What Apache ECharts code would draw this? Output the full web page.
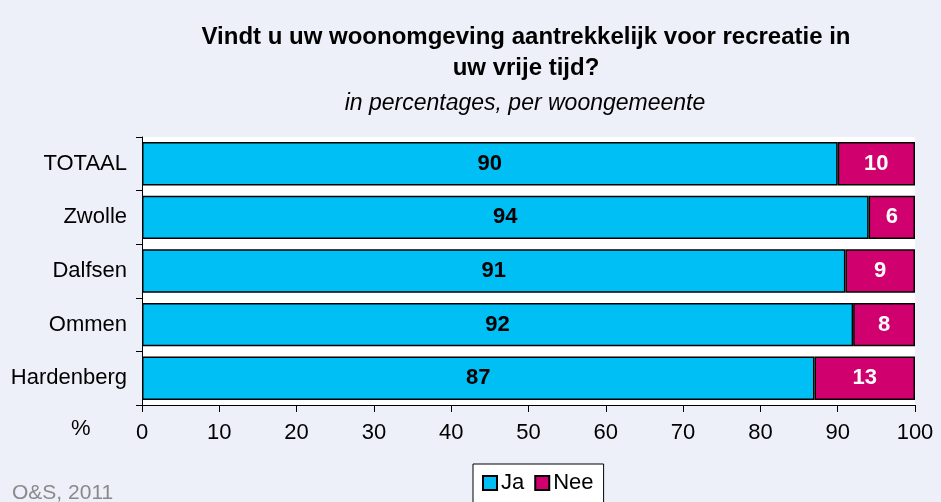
<!DOCTYPE html>
<html>
<head>
<meta charset="utf-8">
<script src="https://cdn.jsdelivr.net/npm/echarts@6/dist/echarts.min.js"></script>
<style>
  html, body { margin: 0; padding: 0; background: #EDF0F8; }
  #chart { width: 941px; height: 502px; }
</style>
</head>
<body>
<div id="chart"></div>
<script>
const categories = ['TOTAAL', 'Zwolle', 'Dalfsen', 'Ommen', 'Hardenberg'];
const jaValues = [90, 94, 91, 92, 87];
const neeValues = [10, 6, 9, 8, 13];
const seriesNames = ['Ja', 'Nee'];

const font = '"Liberation Sans", Arial, sans-serif';

const chart = echarts.init(document.getElementById('chart'));

const option = {
    backgroundColor: '#EDF0F8',
    animation: false,
    title: [
        {
            text: 'Vindt u uw woonomgeving aantrekkelijk voor recreatie in\nuw vrije tijd?',
            left: 521,
            top: 17,
            textAlign: 'center',
            textStyle: { fontFamily: font, fontSize: 24, fontWeight: 'bold', color: '#000', lineHeight: 31 },
        },
        {
            text: 'in percentages, per woongemeente',
            left: 520,
            top: 87,
            textAlign: 'center',
            textStyle: { fontFamily: font, fontSize: 23, fontStyle: 'italic', fontWeight: 'normal', color: '#000' },
        },
        {
            text: '%',
            left: 66,
            top: 413,
            textStyle: { fontFamily: font, fontSize: 22, fontWeight: 'normal', color: '#000' },
        },
        {
            text: 'O&S, 2011',
            left: 7,
            top: 478,
            textStyle: { fontFamily: font, fontSize: 21, fontWeight: 'normal', color: '#8A8A8A' },
        },
    ],
    legend: {
        data: seriesNames,
        left: 473,
        top: 464,
        itemWidth: 14,
        itemHeight: 14,
        itemGap: 10,
        padding: [8, 10, 14, 9],
        backgroundColor: '#fff',
        borderColor: '#000',
        borderWidth: 1,
        borderRadius: 0,
        icon: 'rect',
        textStyle: { fontFamily: font, fontSize: 22, color: '#000', padding: [0, 0, 0, -1] },
    },
    grid: {
        left: 142,
        right: 26,
        top: 137,
        bottom: 97,
        show: true,
        backgroundColor: '#fff',
        borderWidth: 0,
    },
    xAxis: {
        type: 'value',
        min: 0,
        max: 100,
        interval: 10,
        axisLine: { show: true, lineStyle: { color: '#000', width: 1 } },
        axisTick: { show: true, length: 7, lineStyle: { color: '#000' } },
        splitLine: { show: false },
        axisLabel: { fontFamily: font, fontSize: 22, color: '#000', margin: 17 },
    },
    yAxis: {
        type: 'category',
        data: categories,
        inverse: true,
        axisLine: { show: true, lineStyle: { color: '#000', width: 1 } },
        axisTick: { show: true, length: 6, lineStyle: { color: '#000' } },
        axisLabel: { fontFamily: font, fontSize: 22, color: '#000', margin: 15 },
    },
    series: [
        {
            name: seriesNames[0],
            type: 'bar',
            stack: 'total',
            data: jaValues,
            barCategoryGap: '19%',
            itemStyle: { color: '#00BFF5', borderColor: '#000', borderWidth: 1.5 },
            label: {
                show: true,
                position: 'inside',
                fontFamily: font,
                fontSize: 22,
                fontWeight: 'bold',
                color: '#000',
            },
        },
        {
            name: seriesNames[1],
            type: 'bar',
            stack: 'total',
            data: neeValues,
            itemStyle: { color: '#D1006F', borderColor: '#000', borderWidth: 1.5 },
            label: {
                show: true,
                position: 'inside',
                fontFamily: font,
                fontSize: 22,
                fontWeight: 'bold',
                color: '#fff',
            },
        },
    ],
};

chart.setOption(option);
</script>
</body>
</html>
